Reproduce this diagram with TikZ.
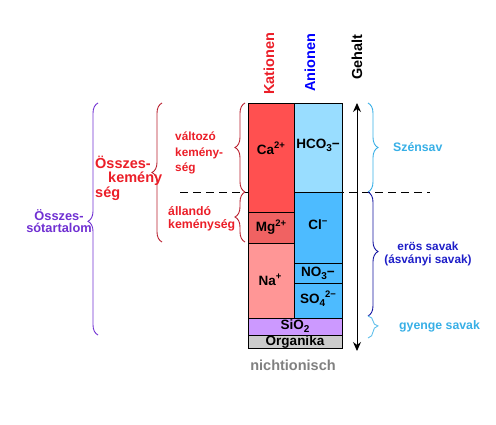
\documentclass[tikz,border=0pt]{standalone}
\usepackage{fontspec}
\setmainfont{Liberation Sans}
\usetikzlibrary{decorations.pathreplacing,arrows.meta}
\newcommand\fsz[1]{\fontsize{#1}{#1}\selectfont}
\newcommand\sups[1]{\raisebox{0.42em}{\fontsize{9.5}{9.5}\selectfont #1}}
\newcommand\subs[1]{\raisebox{-0.22em}{\fontsize{10}{10}\selectfont #1}}
\definecolor{caC}{RGB}{255,80,80}
\definecolor{mgC}{RGB}{240,98,98}
\definecolor{naC}{RGB}{255,150,150}
\definecolor{hcoC}{RGB}{153,221,255}
\definecolor{clC}{RGB}{77,187,255}
\definecolor{siC}{RGB}{204,153,255}
\definecolor{orgC}{RGB}{204,204,204}
\definecolor{purpC}{RGB}{112,48,210}
\definecolor{redT}{RGB}{235,30,40}
\definecolor{redB}{RGB}{185,30,45}
\definecolor{cyanC}{RGB}{55,175,230}
\definecolor{blueB}{RGB}{20,20,160}
\definecolor{blueT}{RGB}{30,30,200}
\definecolor{grayT}{RGB}{128,128,128}
\begin{document}
\begin{tikzpicture}[x=1pt,y=-1pt,
  cell/.style={draw=black,line width=0.8pt},
  lab/.style={font=\bfseries\fsz{13.5},inner sep=0pt},
  side/.style={font=\bfseries\fsz{12.3},inner sep=0pt,align=left},
  bracep/.style={decorate,decoration={brace,amplitude=10pt,aspect=#1},line width=0.9pt},
  head/.style={font=\bfseries\fsz{14.5},inner sep=0pt,rotate=90,anchor=west}]
\useasboundingbox (0,0) rectangle (496,425);
% dashed line
\coordinate (dL) at (180,192);
\coordinate (dR) at (430,192);
\draw[dashed,dash pattern=on 8pt off 5pt,line width=0.9pt] (dL) -- (dR);
% column cells
\filldraw[cell,fill=caC] (248,103) rectangle (294,212);
\filldraw[cell,fill=mgC] (248,212) rectangle (294,243);
\filldraw[cell,fill=naC] (248,243) rectangle (294,318);
\filldraw[cell,fill=hcoC] (294,103) rectangle (342,192);
\filldraw[cell,fill=clC] (294,192) rectangle (342,263);
\filldraw[cell,fill=clC] (294,263) rectangle (342,283);
\filldraw[cell,fill=clC] (294,283) rectangle (342,318);
\filldraw[cell,fill=siC] (248,318) rectangle (342,335);
\filldraw[cell,fill=orgC] (248,335) rectangle (342,348);
% cell labels
\node[lab] (ca) at (271,148) {Ca\sups{2+}};
\node[lab] (hco) at (318,145) {HCO\subs{3}−};
\node[lab] (mg) at (271,227) {Mg\sups{2+}};
\node[lab] (cl) at (318,225) {Cl\sups{−}};
\node[lab] (na) at (270,280) {Na\sups{+}};
\node[lab] (no) at (318,273) {NO\subs{3}−};
\node[lab] (so) at (318,299) {SO\subs{4}\sups{2−}};
\node[lab] (si) at (295,326) {SiO\subs{2}};
\node[lab] (org) at (295,342) {Organika};
\node[font=\bfseries\fsz{14.5},text=grayT,inner sep=0pt] (nicht) at (293,365) {nichtionisch};
% headers
\node[head,text=redT] (kat) at (269,95) {Kationen};
\node[head,text=blue] (an) at (310,92) {Anionen};
\node[head,text=black] (geh) at (357,80) {Gehalt};
% arrow
\coordinate (arT) at (357,103);
\coordinate (arB) at (357,351);
\draw[{Stealth[length=9pt,width=8pt]}-{Stealth[length=9pt,width=8pt]},line width=1pt] (arT) -- (arB);
% left braces
\coordinate (p1) at (98,335); \coordinate (p2) at (98,103);
\draw[bracep=0.49,purpC] (p1) -- (p2);
\coordinate (r1) at (162,242); \coordinate (r2) at (162,103);
\draw[bracep=0.5,redB] (r1) -- (r2);
\coordinate (s1) at (245,192); \coordinate (s2) at (245,103);
\draw[bracep=0.5,redB] (s1) -- (s2);
\coordinate (s3) at (245,242); \coordinate (s4) at (245,192);
\draw[bracep=0.5,redB] (s3) -- (s4);
% right braces
\coordinate (c1) at (368,103); \coordinate (c2) at (368,192);
\draw[bracep=0.5,cyanC] (c1) -- (c2);
\coordinate (b1) at (368,192); \coordinate (b2) at (368,316);
\draw[bracep=0.48,blueB] (b1) -- (b2);
\coordinate (g1) at (368,316); \coordinate (g2) at (368,338);
\draw[bracep=0.45,cyanC!80] (g1) -- (g2);
% left texts
\node[font=\bfseries\fsz{12.8},text=purpC,align=center,inner sep=0pt] (ossz) at (59,221) {Összes-\\[-1.5pt]sótartalom};
\node[font=\bfseries\fsz{14.5},text=redT,align=left,inner sep=0pt,anchor=west] (kem) at (95,178) {Összes-\\\hspace*{13pt}kemény\\ség};
\node[font=\bfseries\fsz{11.8},text=redT,align=left,inner sep=0pt,anchor=west] (valt) at (175,153) {változó\\[3.5pt]kemény-\\[3.5pt]ség};
\node[font=\bfseries\fsz{12.3},text=redT,align=left,inner sep=0pt,anchor=west] (alla) at (168,218.5) {állandó\\[1pt]keménység};
% right texts
\node[side,text=cyanC,anchor=west] (szen) at (393,147) {Szénsav};
\node[font=\bfseries\fsz{11.8},text=blueT,align=center,inner sep=0pt] (eros) at (428,254) {erös savak\\[0.5pt](ásványi savak)};
\node[side,text=cyanC,anchor=west] (gyen) at (399,326) {gyenge savak};
\end{tikzpicture}
\end{document}
